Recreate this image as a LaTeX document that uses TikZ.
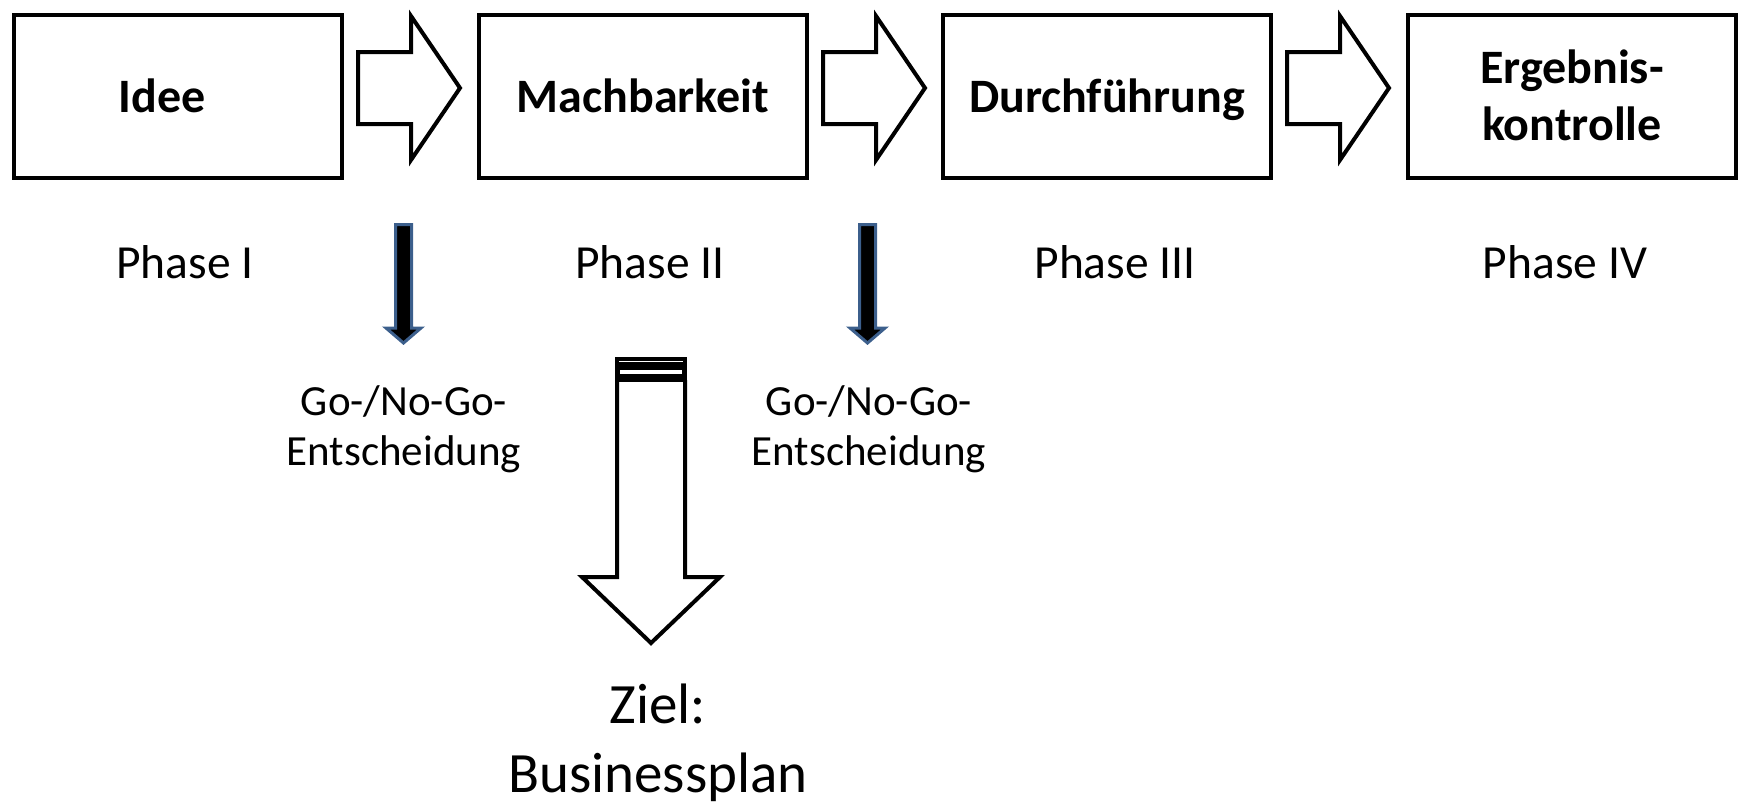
\documentclass[tikz,border=0pt]{standalone}
\usepackage{fontspec}
\setmainfont{Carlito}
\definecolor{arrowblue}{RGB}{60,95,140}
\begin{document}
\begin{tikzpicture}[x=1pt,y=-1pt,
  boxst/.style={draw=black, line width=4pt, minimum width=328pt, minimum height=163pt, inner sep=0pt, fill=white},
  arrst/.style={draw=black, line width=4pt, fill=white, line join=miter},
  bluearr/.style={draw=arrowblue, line width=3pt, fill=black, line join=miter},
  boldtxt/.style={font=\fontsize{48}{57}\selectfont\bfseries, anchor=base, align=center, inner sep=0pt},
  plaintxt/.style={font=\fontsize{47.5}{50}\selectfont, anchor=base, align=center, inner sep=0pt},
  gotxt/.style={font=\fontsize{43}{50}\selectfont, anchor=base, align=center, inner sep=0pt},
  goaltxt/.style={font=\fontsize{57}{69}\selectfont, anchor=base, align=center, inner sep=0pt}
  ]
\useasboundingbox (0,0) rectangle (1739,803);
% phase boxes
\node[boxst] (b1) at (178,96.5) {};
\node[boxst] (b2) at (643,96.5) {};
\node[boxst] (b3) at (1107,96.5) {};
\node[boxst] (b4) at (1572,96.5) {};
% box texts (base = baseline of last line)
\node[boldtxt] (t1) at (162,112) {Idee};
\node[boldtxt] (t2) at (643,112) {Machbarkeit};
\node[boldtxt] (t3) at (1107,112) {Durchführung};
\node[boldtxt] (t4) at (1572,140) {Ergebnis-\\kontrolle};
% block arrows between boxes
\foreach \dx in {0,465,929}{
  \draw[arrst] (358+\dx,52) -- (411+\dx,52) -- (411+\dx,16) -- (460+\dx,88)
     -- (411+\dx,160) -- (411+\dx,124) -- (358+\dx,124) -- cycle;
}
% phase labels
\node[plaintxt] (p1) at (185,278) {Phase I};
\node[plaintxt] (p2) at (650,278) {Phase II};
\node[plaintxt] (p3) at (1115,278) {Phase III};
\node[plaintxt] (p4) at (1565,278) {Phase IV};
% go/no-go arrows
\foreach \cx in {403.5,867.5}{
  \draw[bluearr] (\cx-8,224.5) -- (\cx+8,224.5) -- (\cx+8,328) -- (\cx+17.5,328)
     -- (\cx,343) -- (\cx-17.5,328) -- (\cx-8,328) -- cycle;
}
\node[gotxt] (g1) at (404,465) {Go-/No-Go-\\Entscheidung};
\node[gotxt] (g2) at (869,465) {Go-/No-Go-\\Entscheidung};
% big goal arrow
\draw[arrst] (617,380) -- (617,577) -- (582,577) -- (651,643) -- (720,577) -- (685,577) -- (685,380);
\fill[black] (615,357) rectangle (687,382);
\fill[white] (619,361.2) rectangle (683,362.4);
\draw[black, line width=1pt, fill=white] (619.5,369.5) rectangle (682.5,374);
\node[goaltxt] (z) at (658,792) {Ziel:\\Businessplan};
\end{tikzpicture}
\end{document}
